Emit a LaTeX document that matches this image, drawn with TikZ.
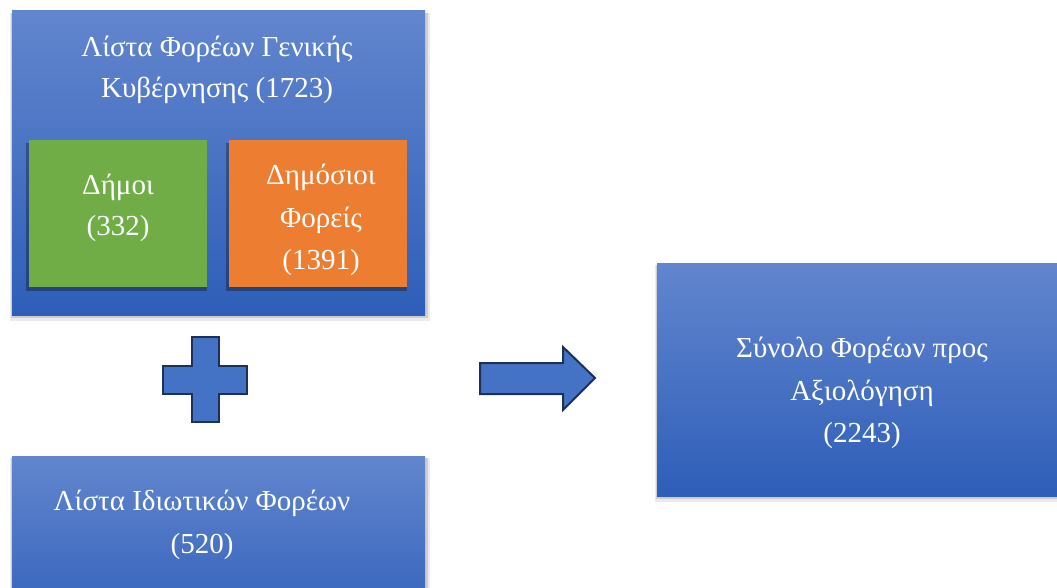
\documentclass[tikz,border=0pt]{standalone}
\usepackage{fontspec}
\setmainfont{Liberation Serif}
\definecolor{gtop}{RGB}{98,134,206}
\definecolor{gbot}{RGB}{46,94,184}
\definecolor{dgreen}{RGB}{112,173,71}
\definecolor{dorange}{RGB}{237,125,49}
\definecolor{shapefill}{RGB}{68,114,196}
\definecolor{shapeline}{RGB}{28,48,90}
\begin{document}
\begin{tikzpicture}[x=1pt,y=-1pt,
  bluebox/.style={draw=none,top color=gtop,bottom color=gbot},
  shadowA/.style={fill=black,opacity=0.08},
  shadowB/.style={fill=black,opacity=0.12},
  lbl/.style={text=white,anchor=base,inner sep=0pt,font=\fontsize{29}{40}\selectfont},
  symb/.style={fill=shapefill,draw=shapeline,line width=2pt,line join=miter}
]
\useasboundingbox (0,0) rectangle (1057,588);
\fill[white] (0,0) rectangle (1057,588);

% shadows
\fill[shadowA] (10,13) rectangle (430,321);
\fill[shadowB] (11,13) rectangle (428,318);
\fill[shadowA] (655,265) rectangle (1057,502);
\fill[shadowB] (656,265) rectangle (1057,499);
\fill[shadowA] (10,458) rectangle (430,588);
\fill[shadowB] (11,458) rectangle (428,588);

% top big box
\shade[bluebox] (12,11) rectangle (425,315);
\fill[black,opacity=0.3] (26,143) rectangle (207,291);
\fill[black,opacity=0.3] (226,143) rectangle (407,291);
\fill[dgreen] (29,140) rectangle (207,287);
\fill[dorange] (229,140) rectangle (407,287);

\node[lbl] (t1) at (217,57) {Λίστα Φορέων Γενικής};
\node[lbl] (t2) at (217,98) {Κυβέρνησης (1723)};
\node[lbl] (g1) at (118,195) {Δήμοι};
\node[lbl] (g2) at (118,236) {(332)};
\node[lbl] (o1) at (321,185) {Δημόσιοι};
\node[lbl] (o2) at (321,227) {Φορείς};
\node[lbl] (o3) at (321,269) {(1391)};

% plus
\draw[symb] (192,337) -- (219,337) -- (219,366) -- (247,366) -- (247,394)
  -- (219,394) -- (219,422) -- (192,422) -- (192,394) -- (163,394)
  -- (163,366) -- (192,366) -- cycle;

% arrow
\draw[symb] (480,363) -- (563,363) -- (563,347) -- (595,378) -- (563,410)
  -- (563,394) -- (480,394) -- cycle;

% right box
\shade[bluebox] (657,263) rectangle (1057,496);
\node[lbl] (r1) at (862,357) {Σύνολο Φορέων προς};
\node[lbl] (r2) at (862,400) {Αξιολόγηση};
\node[lbl] (r3) at (862,442) {(2243)};

% bottom box
\shade[bluebox] (12,456) rectangle (425,640);
\fill[white] (0,588) rectangle (1057,640);
\node[lbl] (b1) at (202,510) {Λίστα Ιδιωτικών Φορέων};
\node[lbl] (b2) at (202,553) {(520)};
\end{tikzpicture}
\end{document}
